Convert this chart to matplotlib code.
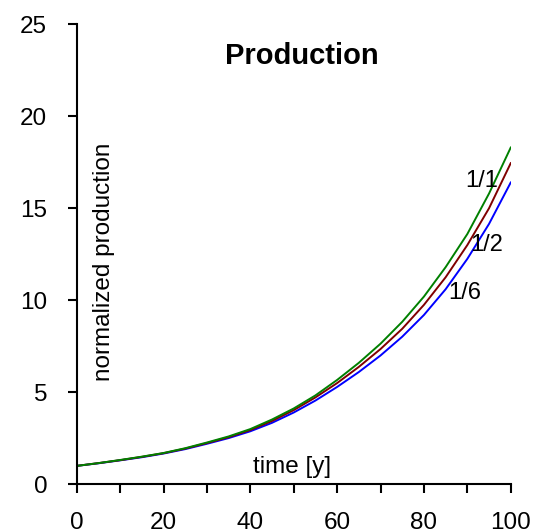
import matplotlib
matplotlib.use('Agg')
import matplotlib.pyplot as plt
import matplotlib.ticker as plticker

plt.rcParams['font.family'] = ['Liberation Sans', 'DejaVu Sans']

# time axis and normalized production per scenario
years = [0, 5, 10, 15, 20, 25, 30, 35, 40, 45, 50,
         55, 60, 65, 70, 75, 80, 85, 90, 95, 100]
prod_1_1 = [1.0, 1.15, 1.32, 1.5, 1.7, 1.96, 2.27, 2.6, 3.0, 3.52, 4.12,
            4.83, 5.67, 6.6, 7.64, 8.83, 10.2, 11.8, 13.6, 15.8, 18.3]
prod_1_2 = [1.0, 1.15, 1.31, 1.49, 1.69, 1.94, 2.24, 2.56, 2.95, 3.44, 4.03,
            4.72, 5.5, 6.38, 7.35, 8.45, 9.75, 11.25, 13.0, 15.0, 17.45]
prod_1_6 = [1.0, 1.14, 1.3, 1.47, 1.67, 1.91, 2.2, 2.51, 2.88, 3.34, 3.9,
            4.55, 5.29, 6.1, 7.0, 8.02, 9.2, 10.6, 12.25, 14.15, 16.4]

fig = plt.figure(figsize=(5.46, 5.32), dpi=100)
ax = fig.add_axes([0.1405, 0.0897, 0.7949, 0.8647])

ax.plot(years, prod_1_6, color='#0000ff', lw=1.4)
ax.plot(years, prod_1_2, color='#800000', lw=1.4)
ax.plot(years, prod_1_1, color='#008000', lw=1.4)

ax.set_xlim(0, 100)
ax.set_ylim(0, 25)
for s in ['top', 'right']:
    ax.spines[s].set_visible(False)
ax.spines['left'].set_linewidth(1.5)
ax.spines['bottom'].set_linewidth(1.5)

ax.xaxis.set_major_locator(plticker.MultipleLocator(20))
ax.xaxis.set_minor_locator(plticker.MultipleLocator(10))
ax.yaxis.set_major_locator(plticker.MultipleLocator(5))
ax.tick_params(axis='x', which='both', direction='out', length=6.5, width=1.5)
ax.tick_params(axis='x', which='major', pad=13.5, labelsize=17.5)
ax.tick_params(axis='y', direction='out', length=6.8, width=1.5, pad=14.5, labelsize=17.5)

# texts placed inside the axes
ax.text(51.8, 23.3, 'Production', fontsize=21, fontweight='bold', ha='center', va='center')
ax.text(6.3, 12.1, 'normalized production', fontsize=17.5, rotation=90, ha='center', va='center')
ax.text(49.6, 0.95, 'time [y]', fontsize=17.5, ha='center', va='center')
ax.text(93.2, 16.5, '1/1', fontsize=17, ha='center', va='center')
ax.text(94.4, 13.0, '1/2', fontsize=17, ha='center', va='center')
ax.text(89.5, 10.4, '1/6', fontsize=17, ha='center', va='center')

fig.savefig('out.png', dpi=100)
